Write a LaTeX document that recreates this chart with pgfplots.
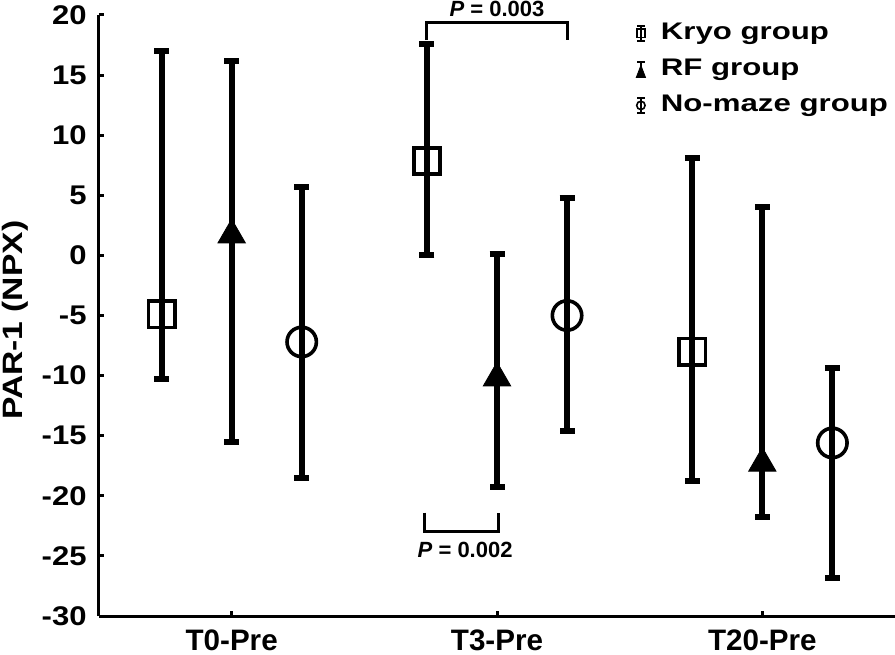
\documentclass[border=0pt]{standalone}
\usepackage{fontspec}
\setmainfont{Liberation Sans}
\usepackage{graphicx}
\usepackage{pgfplots}
\pgfplotsset{compat=1.18}
\newcommand\yt[1]{\scalebox{1.15}[1]{#1}}
\newcommand\legtxt[1]{\scalebox{1.3}[1]{#1}}
\begin{document}
\begin{tikzpicture}
\begin{axis}[
 name=ax, scale only axis, width=398pt, height=300.5pt,
 xmin=0.5, xmax=3.5, ymin=-30, ymax=20,
 axis x line*=bottom, axis y line*=left,
 axis line style={line width=1.5pt},
 xtick={1,2,3}, xticklabels={T0-Pre,T3-Pre,T20-Pre},
 ytick={-30,-25,-20,-15,-10,-5,0,5,10,15,20},
 yticklabels={\yt{-30},\yt{-25},\yt{-20},\yt{-15},\yt{-10},\yt{-5},\yt{0},\yt{5},\yt{10},\yt{15},\yt{20}},
 tick align=inside, major tick length=2.5pt,
 tick style={line width=1.5pt, black},
 xticklabel style={font=\fontsize{14.8}{16}\selectfont\bfseries, inner sep=0pt, yshift=-6.5pt},
 yticklabel style={font=\fontsize{13.5}{14}\selectfont\bfseries, inner sep=0pt, xshift=-6pt},
 ylabel={\scalebox{1.2}[1]{PAR-1 (NPX)}},
 every axis y label/.style={at={(rel axis cs:-0.1055,0.492)}, rotate=90, anchor=center, font=\fontsize{14}{14}\selectfont\bfseries},
 clip=false,
 legend style={at={(rel axis cs:0.674,0.990)}, anchor=north west, draw=none, fill=none, inner sep=0pt, column sep=7.5pt, row sep=6pt, font=\fontsize{12}{12}\selectfont\bfseries, nodes={inner sep=0pt, text height=9pt, text depth=3pt}},
 legend cell align=left,
 error bars/y dir=both, error bars/y explicit,
 error bars/error mark=|,
 error bars/error bar style={line width=3pt, black},
 error bars/error mark options={line width=3pt, mark size=3.75pt, black},
]
% Kryo group
\addplot[only marks, black, mark=square, mark size=6.6pt, mark options={line width=1.8pt},
 legend image code/.code={
  \draw[line width=0.9pt] (2.4pt,-3.6pt) -- (2.4pt,3.6pt);
  \draw[line width=1pt] (0.6pt,3.6pt) -- (4.2pt,3.6pt) (0.6pt,-3.6pt) -- (4.2pt,-3.6pt);
  \draw[line width=0.8pt] (0.3pt,-2.1pt) rectangle (4.5pt,2.1pt);
 }]
 coordinates {
 (0.736,-4.9) += (0,21.9) -= (0,5.4)
 (1.736,7.85) += (0,9.75) -= (0,7.85)
 (2.736,-8.0) += (0,16.1) -= (0,10.8)
 };
\addlegendentry{\legtxt{Kryo group}}
% RF group
\addplot[only marks, black, mark=triangle*, mark size=7.9pt, mark options={line width=0.4pt, fill=black},
 legend image code/.code={
  \draw[line width=0.9pt] (2.4pt,-3.6pt) -- (2.4pt,3.6pt);
  \draw[line width=1pt] (0.6pt,3.6pt) -- (4.2pt,3.6pt);
  \fill (0.1pt,-4pt) -- (4.7pt,-4pt) -- (2.4pt,2pt) -- cycle;
 }]
 coordinates {
 (1,1.7) += (0,14.5) -= (0,17.2)
 (2,-10.2) += (0,10.3) -= (0,9.1)
 (3,-17.3) += (0,21.3) -= (0,4.5)
 };
\addlegendentry{\legtxt{RF group}}
% No-maze group
\addplot[only marks, black, mark=o, mark size=7.35pt, mark options={line width=1.8pt},
 legend image code/.code={
  \draw[line width=0.9pt] (2.4pt,-3.6pt) -- (2.4pt,3.6pt);
  \draw[line width=1pt] (0.6pt,3.6pt) -- (4.2pt,3.6pt) (0.6pt,-3.6pt) -- (4.2pt,-3.6pt);
  \draw[line width=0.8pt] (2.4pt,0pt) circle (2.1pt);
 }]
 coordinates {
 (1.264,-7.2) += (0,12.9) -= (0,11.3)
 (2.264,-5.0) += (0,9.8) -= (0,9.6)
 (3.264,-15.6) += (0,6.2) -= (0,11.2)
 };
\addlegendentry{\legtxt{No-maze group}}
% significance brackets
\draw[line width=1.5pt] (1.736,17.9) -- (1.736,19.4) -- (2.264,19.4) -- (2.264,17.9);
\node[font=\fontsize{11}{11}\selectfont\bfseries] at (2,20.5) {\textit{P} = 0.003};
\draw[line width=1.5pt] (1.728,-21.4) -- (1.728,-23.0) -- (2.004,-23.0) -- (2.004,-21.4);
\node[font=\fontsize{11}{11}\selectfont\bfseries] at (1.88,-24.5) {\textit{P} = 0.002};
\end{axis}
\pgfresetboundingbox
\path ([shift={(-49.5pt,-19pt)}]ax.south west) rectangle ([shift={(0pt,7.5pt)}]ax.north east);
\end{tikzpicture}
\end{document}
